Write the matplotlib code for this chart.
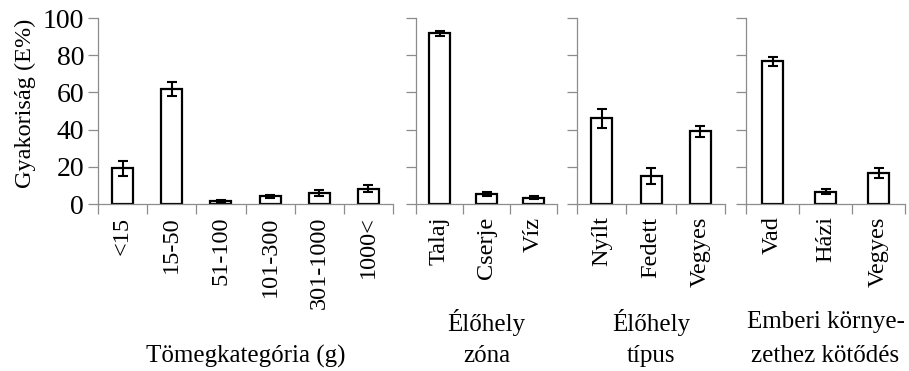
import matplotlib
matplotlib.use('Agg')
import matplotlib.pyplot as plt

plt.rcParams['font.family'] = ['Liberation Serif', 'DejaVu Serif']

# adatok (4 panel)
tomeg_kat = ['<15', '15-50', '51-100', '101-300', '301-1000', '1000<']
tomeg_val = [19.2, 61.8, 1.4, 4.1, 5.9, 8.3]
tomeg_err = [4.1, 3.6, 0.5, 0.9, 1.4, 1.7]

zona_kat = ['Talaj', 'Cserje', 'Víz']
zona_val = [91.7, 5.2, 3.4]
zona_err = [1.3, 1.0, 0.9]

tipus_kat = ['Nyílt', 'Fedett', 'Vegyes']
tipus_val = [46.0, 15.1, 39.1]
tipus_err = [5.0, 4.5, 3.0]

emberi_kat = ['Vad', 'Házi', 'Vegyes']
emberi_val = [76.7, 6.6, 16.7]
emberi_err = [2.5, 1.2, 2.5]

csoport_cimek = ['Tömegkategória (g)', 'Élőhely\nzóna', 'Élőhely\ntípus',
                 'Emberi környe-\nzethez kötődés']

W, H = 909, 371
fig = plt.figure(figsize=(W / 100, H / 100), dpi=100)

# panelek helye pixelben (bal, jobb)
panelek = [(98, 393), (416, 557), (577, 725), (746, 905)]
y0, y100 = 204, 18  # pixel sorok: 0 es 100

adatok = [(tomeg_kat, tomeg_val, tomeg_err),
          (zona_kat, zona_val, zona_err),
          (tipus_kat, tipus_val, tipus_err),
          (emberi_kat, emberi_val, emberi_err)]

szurke = '#8c8c8c'
fs = 18

for i, ((x1, x2), (kat, val, err)) in enumerate(zip(panelek, adatok)):
    ax = fig.add_axes([x1 / W, (H - y0) / H, (x2 - x1) / W, (y0 - y100) / H])
    n = len(kat)
    pos = [k + 0.5 for k in range(n)]
    bw = 21 / ((x2 - x1) / n)
    ax.bar(pos, val, width=bw, color='white', edgecolor='black', linewidth=1.6, zorder=2)
    ax.errorbar(pos, val, yerr=err, fmt='none', ecolor='black', elinewidth=1.5,
                capsize=3.5, capthick=1.5, zorder=3)
    ax.set_xlim(0, n)
    ax.set_ylim(0, 100)
    ax.set_yticks([0, 20, 40, 60, 80, 100])
    ax.set_xticks(range(n + 1))
    ax.set_xticklabels([])
    ax.set_xticks(pos, minor=True)
    ax.set_xticklabels(kat, minor=True, rotation=90, fontsize=17.5, va='top', ha='center')
    ax.tick_params(axis='x', which='minor', length=0, pad=9)
    ax.tick_params(axis='x', which='major', length=7, width=0.9, color=szurke)
    ax.tick_params(axis='y', length=7, width=0.9, color=szurke, labelsize=20, pad=3)
    for s in ['top', 'right']:
        ax.spines[s].set_visible(False)
    for s in ['left', 'bottom']:
        ax.spines[s].set_color(szurke)
        ax.spines[s].set_linewidth(0.9)
    if i == 0:
        ax.set_ylabel('Gyakoriság (E%)', fontsize=17.5)
        ax.yaxis.set_label_coords((36 - x1) / (x2 - x1), (y0 - 103) / (y0 - y100))
    else:
        ax.set_yticklabels([])
    # csoport felirat
    cx = (x1 + x2) / 2 / W
    cim = csoport_cimek[i]
    if '\n' in cim:
        sor1, sor2 = cim.split('\n')
        fig.text(cx, 1 - 322 / H, sor1, ha='center', va='center', fontsize=fs)
        fig.text(cx, 1 - 356 / H, sor2, ha='center', va='center', fontsize=fs)
    else:
        fig.text(cx, 1 - 356 / H, cim, ha='center', va='center', fontsize=fs)

fig.savefig('out.png', dpi=100)
